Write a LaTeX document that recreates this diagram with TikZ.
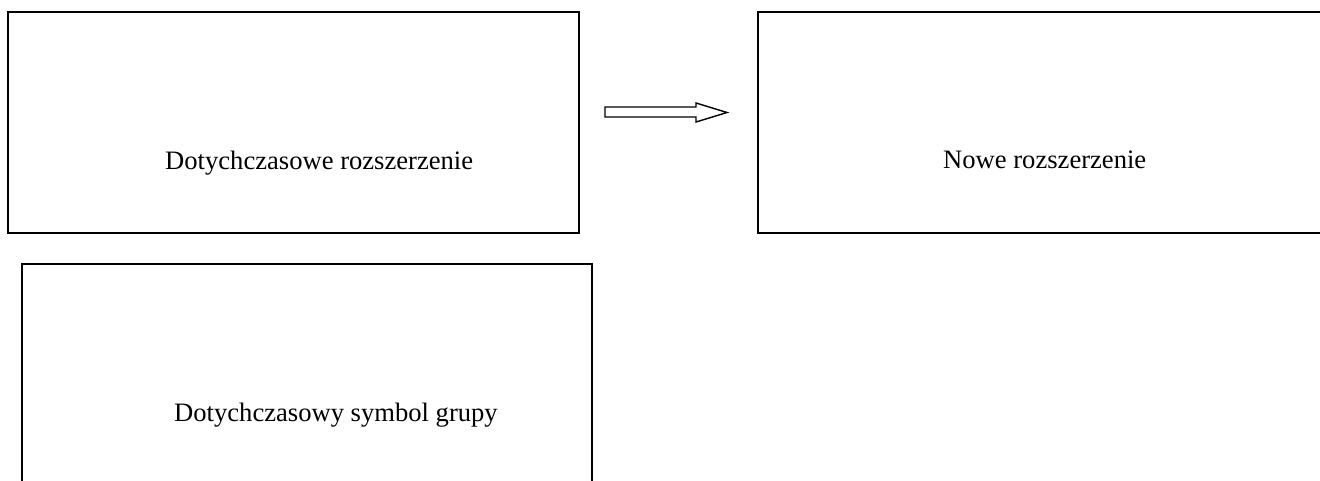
\documentclass[tikz,border=0pt]{standalone}
\usepackage{fontspec}
\setmainfont{Liberation Serif}
\begin{document}
\begin{tikzpicture}[x=1pt,y=-1pt,
  box/.style={draw=black, line width=1.6pt, rectangle, inner sep=0pt},
  lbl/.style={anchor=base west, inner sep=0pt, font=\fontsize{26.6}{32}\selectfont},
  blockarrow/.style={draw=black, line width=1.4pt, fill=white, line join=miter}]
\useasboundingbox (0,0) rectangle (1320,480);
\clip (0,0) rectangle (1320,480);
\fill[white] (0,0) rectangle (1320,480);
% boxes
\node[box, minimum width=571pt, minimum height=221pt] (old) at (293.5,122.5) {};
\node[box, minimum width=600pt, minimum height=221pt] (new) at (1058,122.5) {};
\node[box, minimum width=570pt, minimum height=260pt] (grp) at (307,394) {};
% labels
\node[lbl] (oldlbl) at (165,169) {Dotychczasowe rozszerzenie};
\node[lbl] (newlbl) at (943,168) {Nowe rozszerzenie};
\node[lbl] (grplbl) at (174,421) {Dotychczasowy symbol grupy};
% block arrow
\draw[blockarrow] (605,107) -- (696,107) -- (696,103) -- (727,112.5) -- (696,122) -- (696,117) -- (605,117) -- cycle;
\end{tikzpicture}
\end{document}
